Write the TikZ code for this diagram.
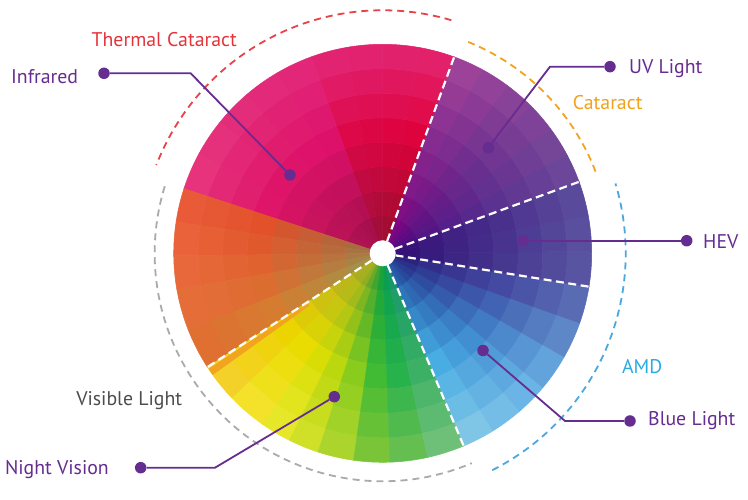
\documentclass[tikz,border=0pt]{standalone}
\usepackage{fontspec}
\setmainfont{PT Sans}
% key colours: o = outer ring, m = middle, i = inner (near hub)
\definecolor{oLBa}{HTML}{8DCCE6}\definecolor{mLBa}{HTML}{48B4E8}\definecolor{iLBa}{HTML}{2060A8}
\definecolor{oLBb}{HTML}{6CB8EA}\definecolor{mLBb}{HTML}{3E86CC}\definecolor{iLBb}{HTML}{263C92}
\definecolor{oLBc}{HTML}{5A62AC}\definecolor{mLBc}{HTML}{443C98}\definecolor{iLBc}{HTML}{2A1878}
\definecolor{oINa}{HTML}{5A5CA6}\definecolor{mINa}{HTML}{45378F}\definecolor{iINa}{HTML}{2C1072}
\definecolor{oINb}{HTML}{5E4C9C}\definecolor{mINb}{HTML}{4A2E8C}\definecolor{iINb}{HTML}{380C78}
\definecolor{oPUa}{HTML}{6A4A9A}\definecolor{mPUa}{HTML}{583290}\definecolor{iPUa}{HTML}{480A80}
\definecolor{oPUb}{HTML}{86469A}\definecolor{mPUb}{HTML}{6C2E8E}\definecolor{iPUb}{HTML}{640680}
\definecolor{oPUc}{HTML}{A6469A}\definecolor{mPUc}{HTML}{8A2A90}\definecolor{iPUc}{HTML}{84007E}
\definecolor{oRDa}{HTML}{E42470}\definecolor{mRDa}{HTML}{DE003A}\definecolor{iRDa}{HTML}{9A0E2A}
\definecolor{oRDb}{HTML}{E2287A}\definecolor{mRDb}{HTML}{DC0848}\definecolor{iRDb}{HTML}{9E0E3C}
\definecolor{oPKa}{HTML}{E2287A}\definecolor{mPKa}{HTML}{DE106A}\definecolor{iPKa}{HTML}{9E0E48}
\definecolor{oPKb}{HTML}{E83A80}\definecolor{mPKb}{HTML}{DE1468}\definecolor{iPKb}{HTML}{AC1250}
\definecolor{oORa}{HTML}{EA5A3A}\definecolor{mORa}{HTML}{E24C28}\definecolor{iORa}{HTML}{A06A42}
\definecolor{oORb}{HTML}{EA6C3E}\definecolor{mORb}{HTML}{DE6630}\definecolor{iORb}{HTML}{A48048}
\definecolor{oORc}{HTML}{DE6E2C}\definecolor{mORc}{HTML}{D28432}\definecolor{iORc}{HTML}{9C9848}
\definecolor{oYEa}{HTML}{F6C82E}\definecolor{mYEa}{HTML}{EED000}\definecolor{iYEa}{HTML}{AAA628}
\definecolor{oYEb}{HTML}{F4EC30}\definecolor{mYEb}{HTML}{E6E000}\definecolor{iYEb}{HTML}{98AC24}
\definecolor{oYEc}{HTML}{C8DE2C}\definecolor{mYEc}{HTML}{ACD410}\definecolor{iYEc}{HTML}{4CA030}
\definecolor{oGRa}{HTML}{6CBE3C}\definecolor{mGRa}{HTML}{1CB240}\definecolor{iGRa}{HTML}{00A040}
\definecolor{oGRb}{HTML}{7AC490}\definecolor{mGRb}{HTML}{44B070}\definecolor{iGRb}{HTML}{18907A}
\definecolor{strip}{HTML}{F2A41E}
% label colours
\definecolor{vio}{HTML}{662D91}
\definecolor{tcred}{HTML}{E6333A}
\definecolor{catorange}{HTML}{F2A11C}
\definecolor{amdblue}{HTML}{29ABE2}
\definecolor{vistext}{HTML}{4D4D4D}
\definecolor{visarc}{HTML}{AAAAAA}
\definecolor{redarc}{HTML}{E8424A}
\definecolor{orarc}{HTML}{F2A31F}
\definecolor{bluarc}{HTML}{4AA8E0}
\begin{document}
\begin{tikzpicture}[x=1pt,y=1pt,
  lbl/.style={font=\fontsize{19.8}{22}\selectfont, inner sep=0pt},
  dotn/.style={circle, fill=vio, draw=none, inner sep=0pt, minimum size=11.5pt},
  lead/.style={draw=vio, line width=1.8pt},
  wdash/.style={draw=white, line width=2.2pt, dash pattern=on 8pt off 4.5pt},
  arcd/.style={line width=1.8pt, dash pattern=on 7pt off 5pt}]
\useasboundingbox (0,0) rectangle (748,500);
\fill[white] (0,0) rectangle (748,500);
\begin{scope}[shift={(382.7,246.7)}]
  % colour wheel
  \foreach \a/\b/\ka/\kb in {292.8/320/LBa/LBb, 320/350.8/LBb/LBc, 350.8/380/INa/INb,
      380/405/PUa/PUb, 405/430/PUb/PUc, 70/110/RDa/RDb, 110/162/PKa/PKb,
      162/190/ORa/ORb, 190/213/ORb/ORc, 213/235/YEa/YEb, 235/252/YEb/YEc,
      252/272/YEc/GRa, 272/292.8/GRa/GRb}{
    \pgfmathtruncatemacro\n{max(2,round((\b-\a)/10))}
    \foreach \j in {1,...,\n}{
      \pgfmathsetmacro\sa{\a+(\j-1)*(\b-\a)/\n}
      \pgfmathsetmacro\sb{\a+\j*(\b-\a)/\n}
      \pgfmathtruncatemacro\p{round(100*(\j-0.5)/\n)}
      \colorlet{co}{o\kb!\p!o\ka}
      \colorlet{cm}{m\kb!\p!m\ka}
      \colorlet{ci}{i\kb!\p!i\ka}
      \foreach \k in {0,...,7}{
        \pgfmathsetmacro\rr{13+\k*24.5}
        \pgfmathsetmacro\rs{37.5+\k*24.5}
        \pgfmathsetmacro\u{1-(\k+0.5)/8}
        \ifnum\k>3
          \pgfmathtruncatemacro\q{round(100*\u/0.45)}
          \colorlet{cc}{cm!\q!co}
        \else
          \pgfmathtruncatemacro\q{round(100*(\u-0.45)/0.55)}
          \colorlet{cc}{ci!\q!cm}
        \fi
        \filldraw[fill=cc, draw=cc, line width=0.5pt]
          (\sa:\rr) arc[start angle=\sa, end angle=\sb, radius=\rr]
          -- (\sb:\rs) arc[start angle=\sb, end angle=\sa, radius=\rs] -- cycle;
      }
    }
  }
  % thin orange strip beside the yellow divider
  \fill[strip] (213.6:90) arc[start angle=213.6, end angle=215.6, radius=90]
    -- (215.6:209) arc[start angle=215.6, end angle=213.6, radius=209] -- cycle;
  % hub
  \fill[white] (0,0) circle[radius=13];
  % white dashed dividers
  \foreach \ang in {70,20,-9.2,-67.2,213}{
    \draw[wdash] (\ang:13) -- (\ang:209);
  }
  % dashed arcs
  \draw[arcd, redarc] (73.6:243) arc[start angle=73.6, end angle=158.7, radius=243];
  \draw[arcd, orarc] (21:228) arc[start angle=21, end angle=68.8, radius=228];
  \draw[arcd, bluarc] (-63.2:243) arc[start angle=-63.2, end angle=16.7, radius=243];
  \draw[arcd, visarc] (162.9:228) arc[start angle=162.9, end angle=293, radius=228];
\end{scope}
% labels
\node[lbl, text=tcred, anchor=base] (tTherm) at (164.2,453.3) {Thermal Cataract};
\node[lbl, text=vio, anchor=base east] (tInfra) at (78.3,416.7) {Infrared};
\node[lbl, text=vio, anchor=base west] (tUV) at (629,426) {UV Light};
\node[lbl, text=catorange, anchor=base] (tCat) at (607.7,390) {Cataract};
\node[lbl, text=vio, anchor=base west] (tHEV) at (703,251.7) {HEV};
\node[lbl, text=amdblue, anchor=base] (tAMD) at (642.2,126) {AMD};
\node[lbl, text=vio, anchor=base west] (tBlue) at (648,74) {Blue Light};
\node[lbl, text=vistext, anchor=base] (tVis) at (129.2,94) {Visible Light};
\node[lbl, text=vio, anchor=base east] (tNight) at (109,25.7) {Night Vision};
% leader dots
\node[dotn] (dInfA) at (104,426.7) {};
\node[dotn] (dInfB) at (290,325) {};
\node[dotn] (dUVA) at (610,433.3) {};
\node[dotn] (dUVB) at (488.3,352.3) {};
\node[dotn] (dHEVA) at (686.7,259.3) {};
\node[dotn] (dHEVB) at (523,259.3) {};
\node[dotn] (dBlA) at (630,79) {};
\node[dotn] (dBlB) at (483,149.5) {};
\node[dotn] (dNVA) at (140.7,32.3) {};
\node[dotn] (dNVB) at (334.3,103.3) {};
\coordinate (cInf) at (190.7,426.7);
\coordinate (cUV) at (550,433.3);
\coordinate (cBl) at (565,79);
\coordinate (cNV) at (215,32.3);
% leader lines
\draw[lead] (dInfA) -- (cInf) -- (dInfB);
\draw[lead] (dUVA) -- (cUV) -- (dUVB);
\draw[lead] (dHEVA) -- (dHEVB);
\draw[lead] (dBlA) -- (cBl) -- (dBlB);
\draw[lead] (dNVA) -- (cNV) -- (dNVB);
\end{tikzpicture}
\end{document}
